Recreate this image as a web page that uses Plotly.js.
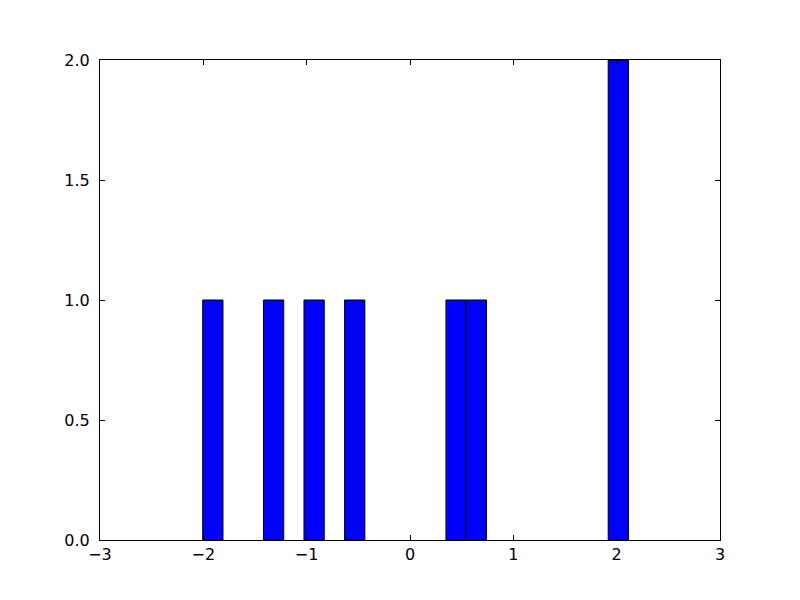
<!DOCTYPE html>
<html>
<head>
<meta charset="utf-8">
<script src="https://cdn.plot.ly/plotly-3.0.1.min.js"></script>
<style>html,body{margin:0;padding:0;background:#fff;}#chart{width:800px;height:600px;}</style>
</head>
<body>
<div id="chart"></div>
<script>
// Histogram bins (left edges) that contain values, and their counts
const binLeftEdges = [-2.006, -1.418, -1.026, -0.633, 0.348, 0.544, 1.918];
const binCounts = [1, 1, 1, 1, 1, 1, 2];
const binWidth = 0.196;
const xTickVals = [-3, -2, -1, 0, 1, 2, 3];
const yTickVals = [0, 0.5, 1, 1.5, 2];

const centers = binLeftEdges.map(e => e + binWidth / 2);

const trace = {
  type: 'bar',
  x: centers,
  y: binCounts,
  width: binLeftEdges.map(() => binWidth),
  marker: {color: '#0000ff', line: {color: '#000000', width: 1}},
  hoverinfo: 'x+y'
};

const axisCommon = {
  showgrid: false,
  zeroline: false,
  showline: true,
  linecolor: '#000',
  linewidth: 1,
  mirror: 'ticks',
  ticks: 'inside',
  ticklen: 5,
  tickwidth: 1,
  tickcolor: '#000',
  tickfont: {family: 'DejaVu Sans', size: 16, color: '#000'}
};

const layout = {
  width: 800,
  height: 600,
  margin: {l: 100, r: 80, t: 60, b: 60},
  paper_bgcolor: '#fff',
  plot_bgcolor: '#fff',
  showlegend: false,
  bargap: 0,
  xaxis: Object.assign({}, axisCommon, {
    range: [-3, 3],
    tickvals: xTickVals,
    ticklabelstandoff: 0
  }),
  yaxis: Object.assign({}, axisCommon, {
    range: [0, 2],
    tickvals: yTickVals,
    tickformat: '.1f',
    ticklabelstandoff: 6
  })
};

Plotly.newPlot('chart', [trace], layout, {displayModeBar: false, staticPlot: true});
</script>
</body>
</html>
